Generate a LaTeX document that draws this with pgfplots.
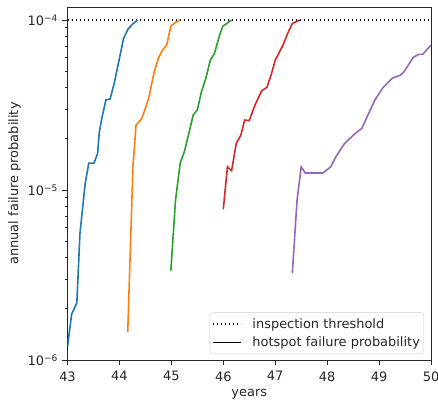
\documentclass[border=0pt]{standalone}
\usepackage{fontspec}
\setmainfont{DejaVu Sans}
\usepackage{pgfplots}
\pgfplotsset{compat=1.18}
\usetikzlibrary{calc}
\definecolor{tabblue}{HTML}{1F77B4}
\definecolor{taborange}{HTML}{FF7F0E}
\definecolor{tabgreen}{HTML}{2CA02C}
\definecolor{tabred}{HTML}{D62728}
\definecolor{tabpurple}{HTML}{9467BD}
\definecolor{axgray}{gray}{0.15}
\begin{document}
\begin{tikzpicture}
\begin{axis}[
  scale only axis,
  width=363.5bp, height=353bp,
  xmin=43, xmax=50,
  ymode=log, ymin=1e-6, ymax=1.193e-4,
  xtick={43,44,45,46,47,48,49,50},
  ytick={1e-6,1e-5,1e-4},
  yticklabels={10\textsuperscript{−6},10\textsuperscript{−5},10\textsuperscript{−4}},
  /pgf/number format/assume math mode=true,
  tick align=outside,
  xtick pos=bottom, ytick pos=left,
  major tick length=5bp, minor tick length=3bp,
  every tick/.style={axgray, line width=0.8bp},
  axis line style={axgray, line width=1bp},
  ticklabel style={font=\fontsize{13}{15}\selectfont, text=axgray},
  xticklabel style={yshift=-3bp},
  yticklabel style={xshift=-1bp},
  label style={font=\fontsize{13}{15}\selectfont, text=axgray},
  xlabel={years}, ylabel={annual failure probability},
  xlabel style={yshift=-1bp},
  ylabel style={yshift=0bp},
  legend style={at={(0.981,0.017)}, anchor=south east, draw=black!20, rounded corners=3bp,
    fill=white, fill opacity=0.8, text opacity=1, font=\fontsize{13}{15}\selectfont,
    text=axgray, inner xsep=2bp, inner ysep=3.5bp, row sep=3.5bp},
  legend cell align=left,
  legend image code/.code={\draw[#1] (0bp,0bp) -- (28bp,0bp); \path (37bp,0bp);},
  every axis plot/.append style={line width=1.6bp},
]
\addlegendimage{black, line width=1.6bp, dash pattern=on 1.5bp off 2.5bp}
\addlegendentry{inspection threshold}
\addlegendimage{black, line width=1.6bp}
\addlegendentry{hotspot failure probability}
\addplot[black, dash pattern=on 1.5bp off 2.5bp, forget plot] coordinates {(43,1e-4) (50,1e-4)};
\addplot[tabblue, forget plot] coordinates {(43.0,1.2e-6) (43.08,1.86e-6) (43.18,2.17e-6) (43.24,5.56e-6) (43.34,1.09e-5) (43.41,1.44e-5) (43.51,1.44e-5) (43.58,1.64e-5) (43.61,2.16e-5) (43.66,2.64e-5) (43.74,3.39e-5) (43.82,3.43e-5) (43.90,4.25e-5) (43.98,5.56e-5) (44.08,7.8e-5) (44.17,8.9e-5) (44.27,9.56e-5) (44.35,1e-4)};
\addplot[taborange, forget plot] coordinates {(44.16,1.46e-6) (44.24,8.7e-6) (44.26,1.37e-5) (44.32,2.41e-5) (44.43,2.64e-5) (44.49,2.96e-5) (44.57,3.54e-5) (44.67,4.96e-5) (44.75,5.96e-5) (44.83,6.67e-5) (44.91,7.13e-5) (44.99,9.2e-5) (45.07,9.64e-5) (45.17,1e-4)};
\addplot[tabgreen, forget plot] coordinates {(44.99,3.35e-6) (45.08,8.7e-6) (45.17,1.44e-5) (45.25,1.68e-5) (45.33,2.11e-5) (45.42,2.76e-5) (45.50,2.96e-5) (45.58,3.79e-5) (45.66,4.5e-5) (45.75,5.8e-5) (45.83,6.36e-5) (45.92,7.98e-5) (45.99,9.2e-5) (46.07,9.56e-5) (46.16,1e-4)};
\addplot[tabred, forget plot] coordinates {(46.0,7.7e-6) (46.08,1.37e-5) (46.16,1.30e-5) (46.25,1.88e-5) (46.34,2.11e-5) (46.41,2.58e-5) (46.50,2.56e-5) (46.61,3.16e-5) (46.74,3.84e-5) (46.84,4.02e-5) (46.92,4.74e-5) (47.0,5.8e-5) (47.15,7.13e-5) (47.24,8.35e-5) (47.33,9.56e-5) (47.48,1e-4)};
\addplot[tabpurple, forget plot] coordinates {(47.33,3.24e-6) (47.42,8.7e-6) (47.50,1.37e-5) (47.58,1.26e-5) (47.92,1.26e-5) (48.07,1.37e-5) (48.17,1.57e-5) (48.33,1.87e-5) (48.51,2.11e-5) (48.67,2.31e-5) (48.77,2.70e-5) (48.92,3.39e-5) (49.08,4.02e-5) (49.25,4.54e-5) (49.41,4.74e-5) (49.48,4.96e-5) (49.66,6.04e-5) (49.76,6.28e-5) (49.84,6.28e-5) (50.0,7.13e-5)};
\end{axis}
\pgfresetboundingbox
\path ($(current axis.south west)+(-67.5bp,-42bp)$) rectangle ($(current axis.north east)+(7bp,7bp)$);
\end{tikzpicture}
\end{document}
